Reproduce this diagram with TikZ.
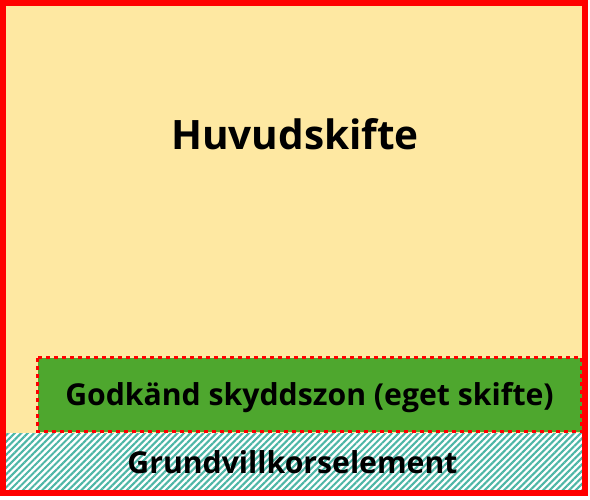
\documentclass[tikz,border=0pt]{standalone}
\usepackage{fontspec}
\setmainfont{Open Sans}
\usetikzlibrary{patterns.meta}
\definecolor{bgyellow}{RGB}{254,232,162}
\definecolor{zonegreen}{RGB}{78,167,46}
\definecolor{hatchteal}{RGB}{77,182,166}
\definecolor{borderred}{RGB}{255,0,0}
\tikzset{
  lbl/.style={font=\bfseries, text=black, anchor=base, inner sep=0pt},
}
\begin{document}
\begin{tikzpicture}[x=1pt,y=-1pt]
\useasboundingbox (0,0) rectangle (590,500);
% main field
\fill[bgyellow] (3,3) rectangle (585,493);
% hatched band
\fill[white] (6,433) rectangle (582,490);
\fill[pattern={Lines[angle=45,distance=4.6pt,line width=2.1pt]}, pattern color=hatchteal] (6,433) rectangle (582,490);
% green zone
\fill[zonegreen] (37.5,357.5) rectangle (582,431.5);
\draw[borderred, line width=3.5pt, dash pattern=on 4pt off 4pt] (37.5,357.5) rectangle (581.5,431.5);
% outer border
\draw[borderred, line width=6.5pt] (3,3) rectangle (585,493);
% labels
\node[lbl, font=\bfseries\fontsize{40.5}{44}\selectfont] (huvud) at (295,150) {Huvudskifte};
\node[lbl, font=\bfseries\fontsize{30.2}{34}\selectfont] (zon) at (309.5,405) {Godkänd skyddszon (eget skifte)};
\node[lbl, font=\bfseries\fontsize{30.2}{34}\selectfont] (grund) at (292.5,473) {Grundvillkorselement};
\end{tikzpicture}
\end{document}
